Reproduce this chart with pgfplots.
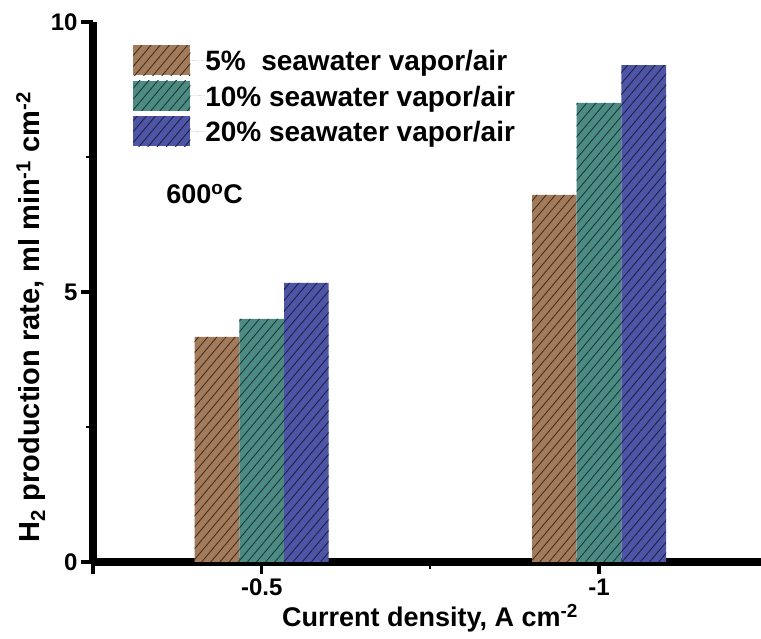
\documentclass[border=0pt]{standalone}
\usepackage{fontspec}
\setmainfont{Liberation Sans}
\usepackage{pgfplots}
\pgfplotsset{compat=1.18}
\usetikzlibrary{patterns.meta}
\definecolor{cbrown}{HTML}{A47B5A}
\definecolor{cteal}{HTML}{4C8B84}
\definecolor{cblue}{HTML}{4E55A6}
\pgfplotstableread{
x  a    b    c
1  4.17 4.50 5.17
2  6.80 8.50 9.20
}\datatab
\begin{document}
\begin{tikzpicture}[line width=4.3pt]
\begin{axis}[
  scale only axis,
  width=668pt, height=540pt,
  xmin=0.5, xmax=2.48,
  ymin=0, ymax=10,
  axis x line=bottom, axis y line=left,
  axis line style={-, line width=8pt},
  xtick={0.5,1,2}, xticklabels={,-0.5,-1},
  minor xtick={1.5},
  ytick={0,5,10}, minor ytick={2.5,7.5},
  tick align=outside,
  major tick length=12pt, minor tick length=7pt,
  major tick style={line width=3.6pt, black},
  minor tick style={line width=2pt, black},
  /pgf/number format/assume math mode=true,
  tick label style={font=\fontsize{24}{28}\selectfont\bfseries},
  xticklabel style={yshift=-1pt},
  xlabel={\bfseries Current density, A cm\textsuperscript{-2}},
  ylabel={\bfseries H\textsubscript{2} production rate, ml min\textsuperscript{-1} cm\textsuperscript{-2}},
  xlabel style={font=\fontsize{27}{32}\selectfont, at={(axis description cs:0.5045,-0.104)}, anchor=center},
  ylabel style={font=\fontsize{29}{34}\selectfont, at={(axis description cs:-0.093,0.4537)}, anchor=center},
  ybar=0pt, bar width=0.1325,
  clip=false,
  legend style={at={(0.06,0.957)}, anchor=north west, draw=none, fill=none,
    font=\fontsize{28}{32}\selectfont\bfseries, row sep=5.5pt, inner sep=0pt,
    nodes={inner sep=0pt, text depth=0pt}},
  legend cell align=left,
  legend image code/.code={\path[#1, draw=none] (0pt,-15pt) rectangle (57pt,15pt); \path (57pt,0) -- (72pt,0);},
]
\addplot[fill=cbrown, draw=none, postaction={pattern={Lines[angle=50, distance=7pt, line width=0.9pt]}, pattern color=cbrown!40!black}] table[x=x, y=a] {\datatab};
\addplot[fill=cteal, draw=none, postaction={pattern={Lines[angle=50, distance=7pt, line width=0.9pt]}, pattern color=cteal!40!black}] table[x=x, y=b] {\datatab};
\addplot[fill=cblue, draw=none, postaction={pattern={Lines[angle=50, distance=7pt, line width=0.9pt]}, pattern color=cblue!40!black}] table[x=x, y=c] {\datatab};
\legend{5\%\ \ seawater vapor/air, 10\% seawater vapor/air, 20\% seawater vapor/air}
\node[font=\fontsize{27}{32}\selectfont\bfseries] at (axis cs:0.831,6.82) {600\textsuperscript{o}C};
\end{axis}
\pgfresetboundingbox
\path[use as bounding box] ([xshift=-93pt,yshift=-77pt]current axis.origin) rectangle ([yshift=22pt]current axis.north east);
\end{tikzpicture}
\end{document}
